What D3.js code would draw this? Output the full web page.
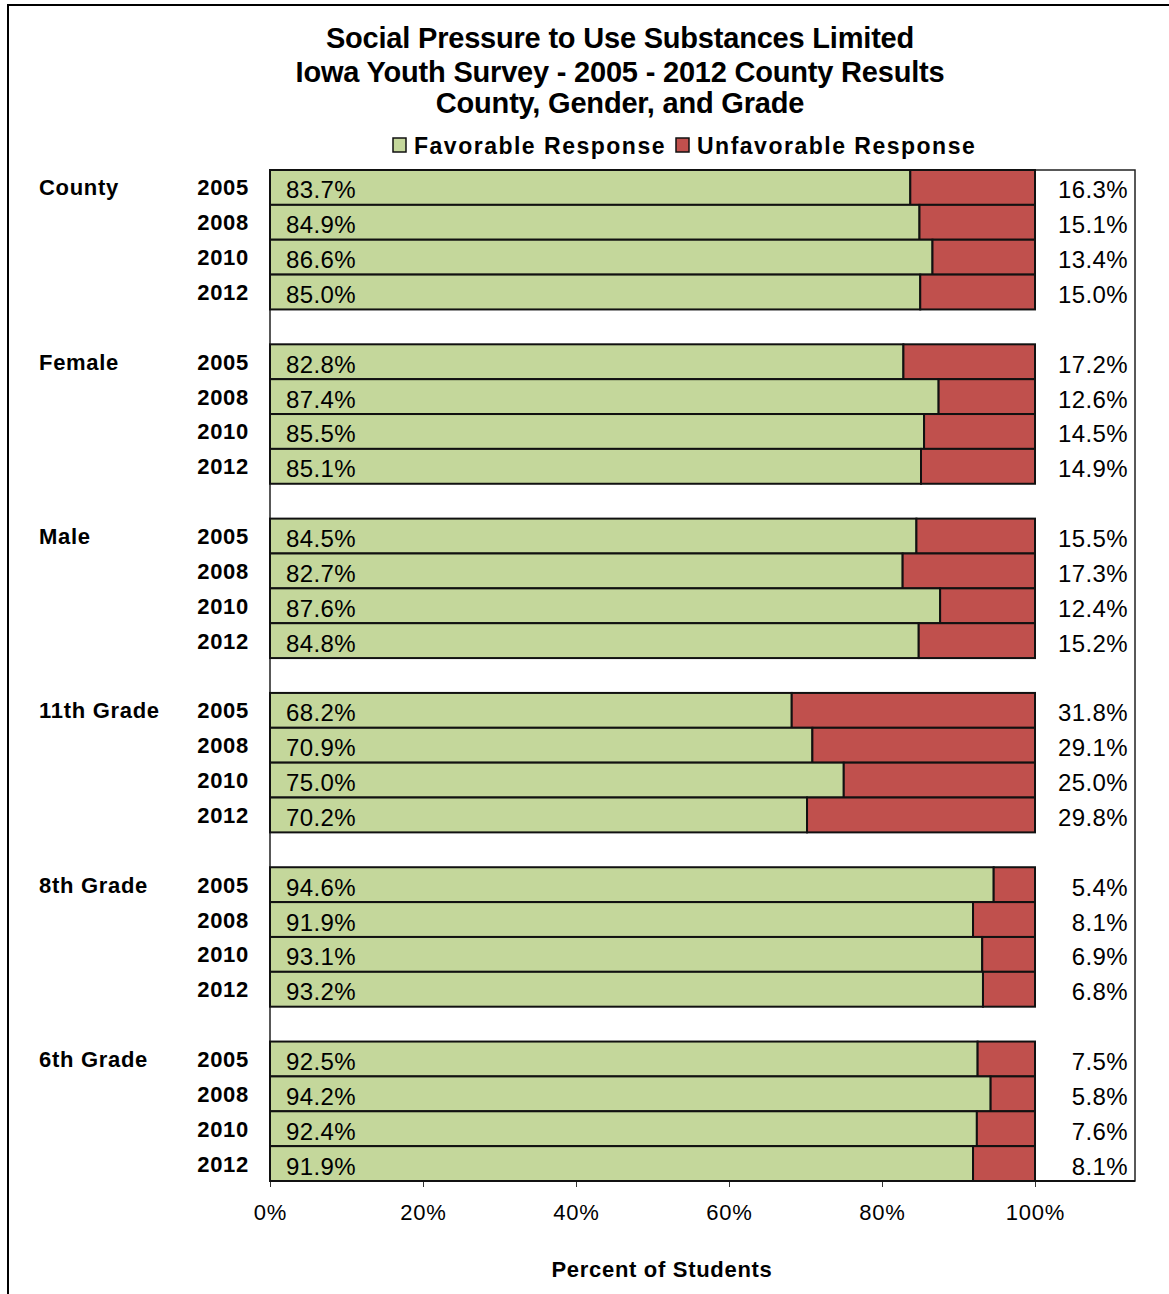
<!DOCTYPE html>
<html><head><meta charset="utf-8">
<script src="https://cdn.jsdelivr.net/npm/d3@7"></script>
<style>body{margin:0;background:#fff}svg{display:block;font-family:Arial,"Liberation Sans",sans-serif}</style>
</head><body><div id="chart"></div>
<script>
const groups = ["County","Female","Male","11th Grade","8th Grade","6th Grade"];
const years = ["2005","2008","2010","2012"];
const favorable = [
  [83.7,84.9,86.6,85.0],
  [82.8,87.4,85.5,85.1],
  [84.5,82.7,87.6,84.8],
  [68.2,70.9,75.0,70.2],
  [94.6,91.9,93.1,93.2],
  [92.5,94.2,92.4,91.9]
];
const unfavorable = [
  [16.3,15.1,13.4,15.0],
  [17.2,12.6,14.5,14.9],
  [15.5,17.3,12.4,15.2],
  [31.8,29.1,25.0,29.8],
  [5.4,8.1,6.9,6.8],
  [7.5,5.8,7.6,8.1]
];
const xTicks = [0,20,40,60,80,100];
const titleLines = ["Social Pressure to Use Substances Limited","Iowa Youth Survey - 2005 - 2012 County Results","County, Gender, and Grade"];
const seriesNames = ["Favorable Response","Unfavorable Response"];
const colors = ["#C4D79B","#C0504D"];

(function(){
const W=1169,H=1294;
const svg=d3.select("#chart").append("svg").attr("width",W).attr("height",H);
svg.append("path").attr("d",`M8,${H} L8,5 L${W},5`).attr("fill","none").attr("stroke","#000").attr("stroke-width",2);

const pL=270,pR=1135,pT=170,pB=1181;
const slots=[];const rows=[];
groups.forEach((g,gi)=>{
  years.forEach((y,yi)=>{const key=g+"|"+y;slots.push(key);rows.push({g,gi,y,yi,key,fav:favorable[gi][yi],unf:unfavorable[gi][yi]});});
  if(gi<groups.length-1) slots.push("gap"+gi);
});
const yS=d3.scaleBand().domain(slots).range([pT,pB]).padding(0);
const x=d3.scaleLinear().domain([0,100]).range([pL,1035]);

svg.append("rect").attr("x",pL).attr("y",pT).attr("width",pR-pL).attr("height",pB-pT).attr("fill","none").attr("stroke","#222").attr("stroke-width",1.5);

const bars=svg.append("g");
rows.forEach(r=>{
  const y0=yS(r.key),h=yS.bandwidth();
  bars.append("rect").attr("x",x(0)).attr("y",y0).attr("width",x(r.fav)-x(0)).attr("height",h).attr("fill",colors[0]).attr("stroke","#111").attr("stroke-width",2);
  bars.append("rect").attr("x",x(r.fav)).attr("y",y0).attr("width",x(100)-x(r.fav)).attr("height",h).attr("fill",colors[1]).attr("stroke","#111").attr("stroke-width",2);
  const cy=y0+h/2;
  svg.append("text").attr("x",x(0)+16).attr("y",cy+11).attr("font-size",24).attr("letter-spacing",0.4).attr("fill","#000").text(r.fav.toFixed(1)+"%");
  svg.append("text").attr("x",1128).attr("y",cy+11).attr("text-anchor","end").attr("font-size",24).attr("letter-spacing",0.4).attr("fill","#000").text(r.unf.toFixed(1)+"%");
  svg.append("text").attr("x",249).attr("y",cy+8).attr("text-anchor","end").attr("font-size",22).attr("letter-spacing",0.7).attr("font-weight","bold").text(r.y);
  if(r.yi===0) svg.append("text").attr("x",39).attr("y",cy+8).attr("font-size",22).attr("letter-spacing",0.7).attr("font-weight","bold").text(r.g);
});

const ax=svg.append("g").attr("transform",`translate(0,${pB})`)
  .call(d3.axisBottom(x).tickValues(xTicks).tickFormat(d=>d+"%").tickSize(6).tickPadding(17));
ax.select(".domain").remove();
ax.selectAll("line").attr("stroke","#333").attr("stroke-width",1);
ax.selectAll("text").attr("font-size",22).attr("letter-spacing",0.8).attr("fill","#000").attr("font-family","Arial,'Liberation Sans',sans-serif");
svg.append("line").attr("x1",pL).attr("x2",pR).attr("y1",pB).attr("y2",pB).attr("stroke","#111").attr("stroke-width",2);
svg.append("text").attr("x",662).attr("y",1277).attr("text-anchor","middle").attr("font-size",22).attr("letter-spacing",0.7).attr("font-weight","bold").text("Percent of Students");

const tys=[48,82,113];
titleLines.forEach((t,i)=>svg.append("text").attr("x",620).attr("y",tys[i]).attr("text-anchor","middle").attr("font-size",29).attr("font-weight","bold").attr("letter-spacing","-0.2").text(t));

const lg=svg.append("g");
const legX=[393,676];
seriesNames.forEach((s,i)=>{
  lg.append("rect").attr("x",legX[i]).attr("y",138).attr("width",13).attr("height",14).attr("fill",colors[i]).attr("stroke","#111").attr("stroke-width",1.5);
  lg.append("text").attr("x",legX[i]+21).attr("y",154).attr("font-size",23).attr("letter-spacing",1.5).attr("font-weight","bold").text(s);
});
})();
</script></body></html>
